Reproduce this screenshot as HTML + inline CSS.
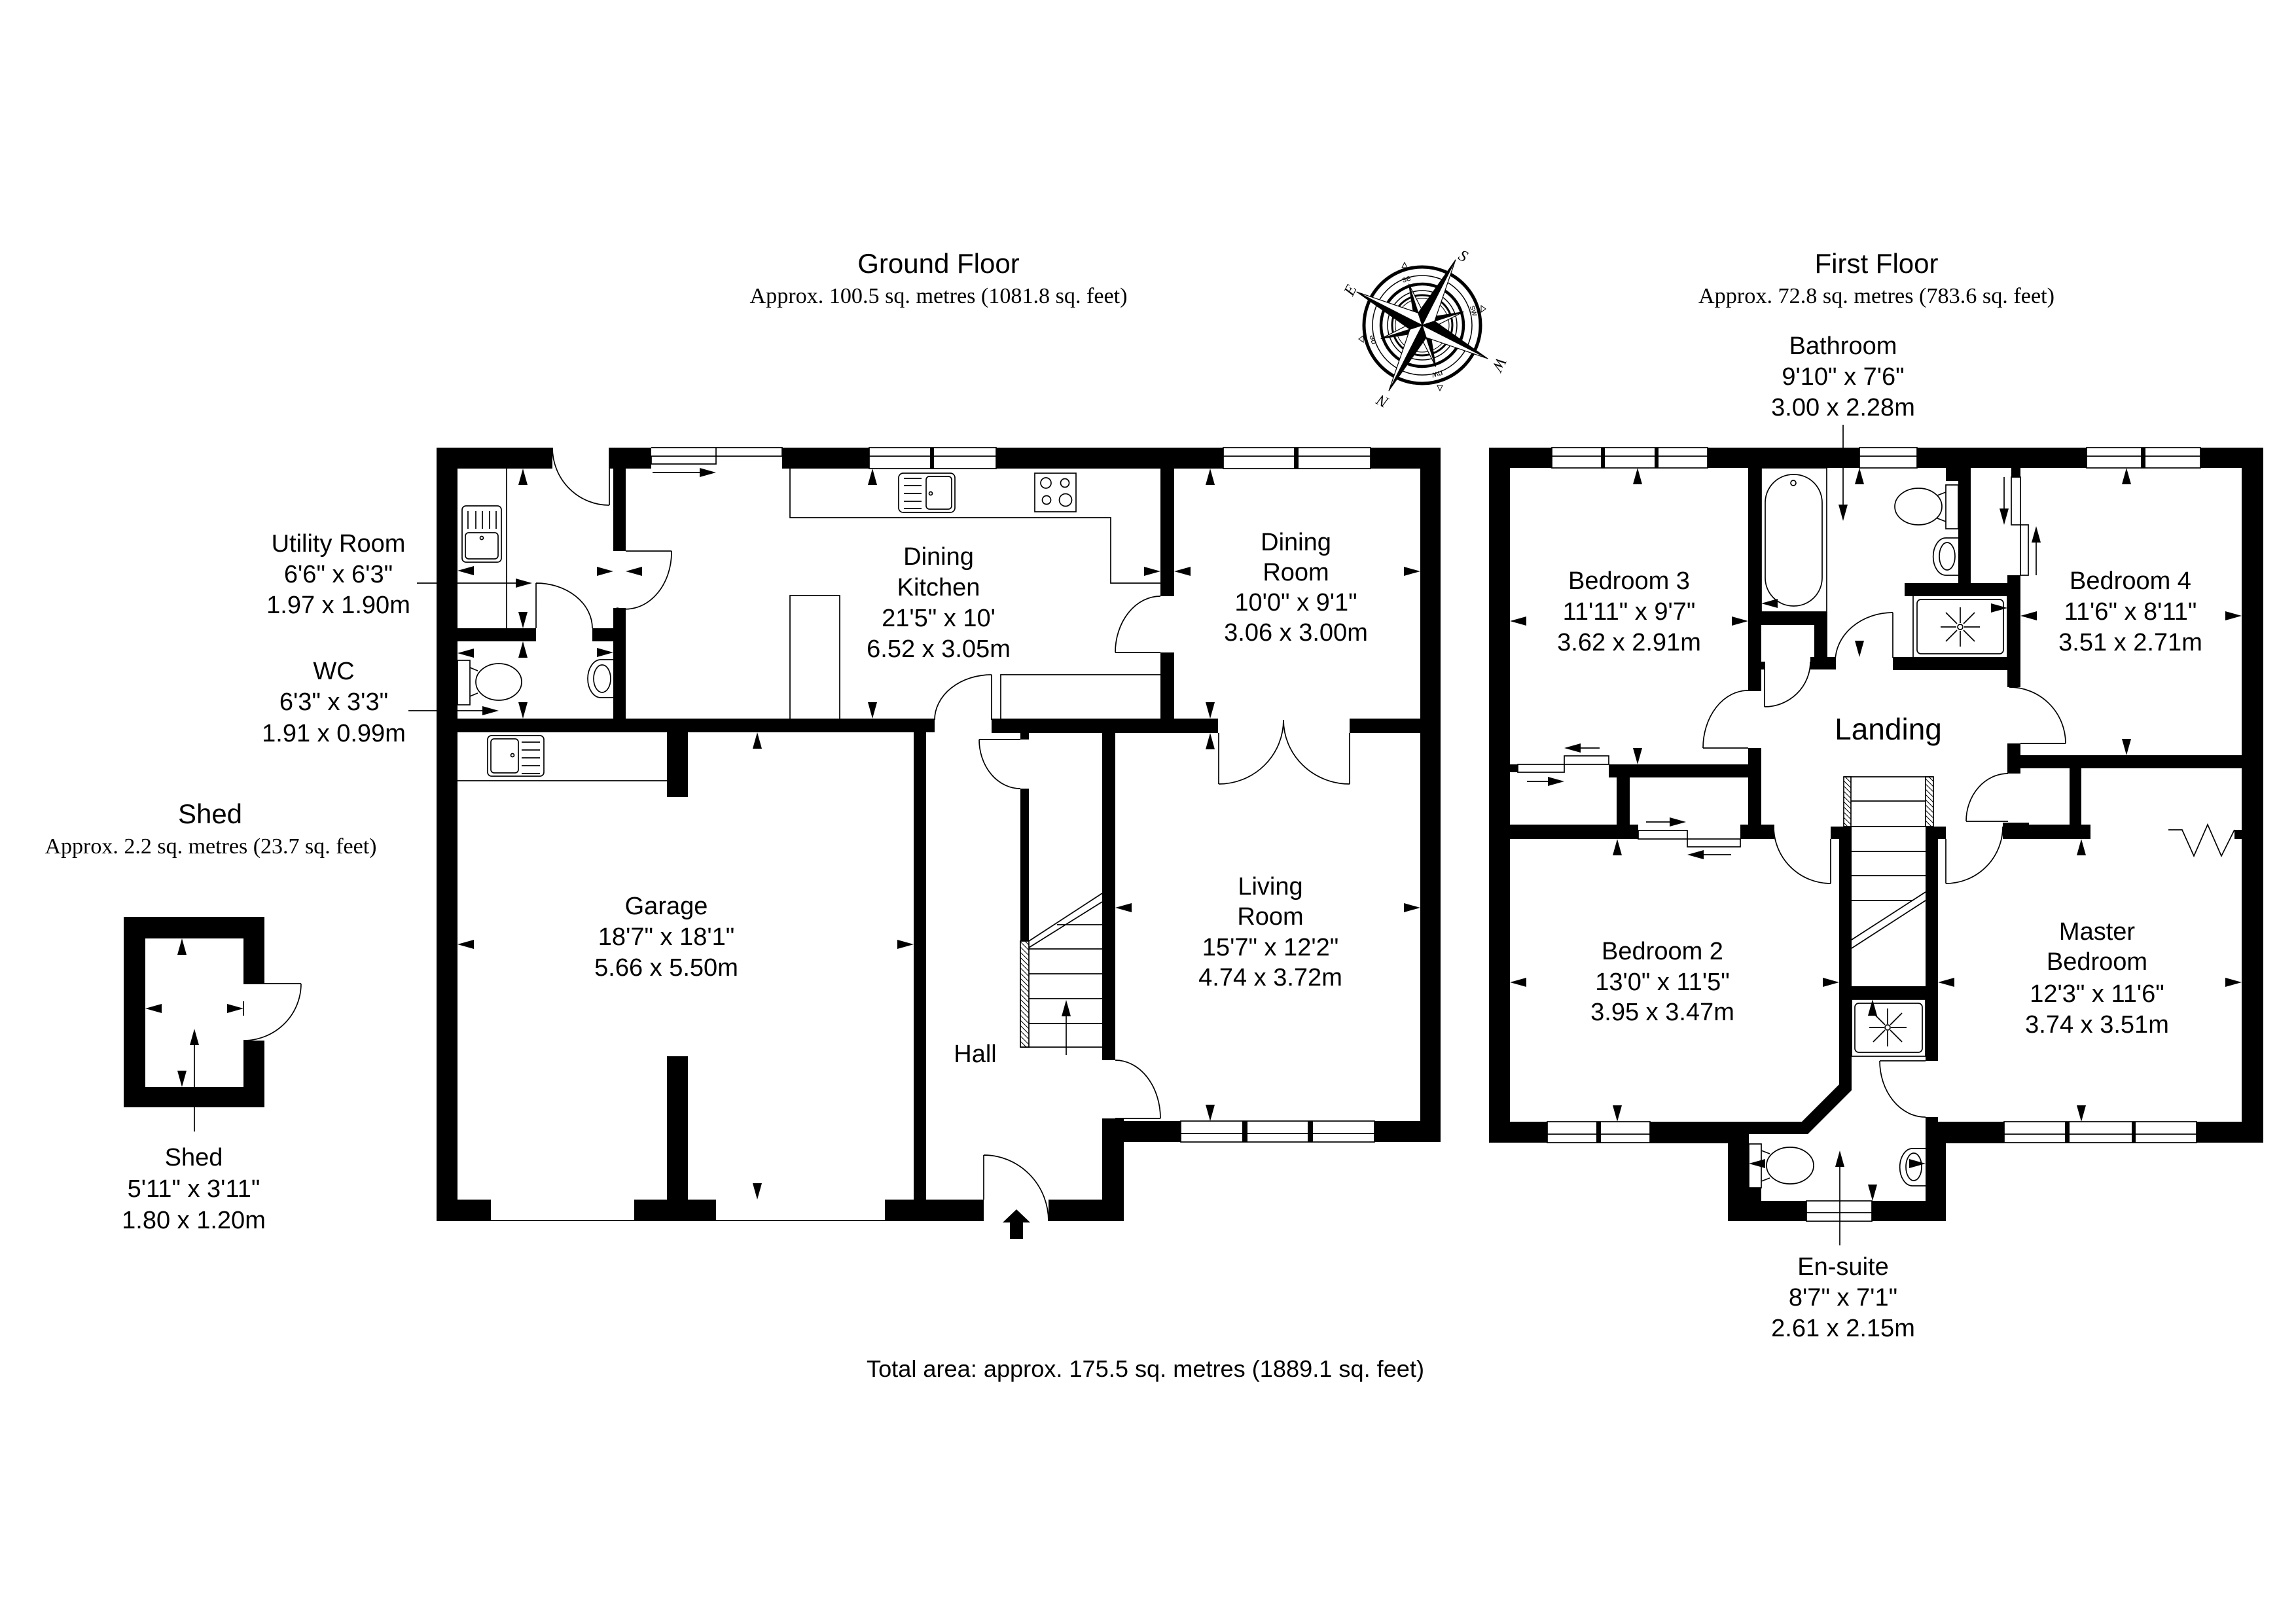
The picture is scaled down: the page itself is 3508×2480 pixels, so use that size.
<!DOCTYPE html>
<html><head><meta charset="utf-8"><style>
html,body{margin:0;padding:0;background:#fff}
svg{display:block}
.l{font-family:"Liberation Sans",Arial,sans-serif;font-size:38px;text-anchor:middle;fill:#000}
.h{font-family:"Liberation Sans",Arial,sans-serif;font-size:42px;text-anchor:middle;fill:#000}
.s{font-family:"Liberation Serif","Times New Roman",serif;font-size:34px;text-anchor:middle;fill:#000}
.c{font-family:"Liberation Serif","Times New Roman",serif;font-style:italic;font-size:24px;text-anchor:middle;fill:#000}
.cs{font-family:"Liberation Sans",Arial,sans-serif;font-size:13px;text-anchor:middle;fill:#000}
</style></head><body>
<svg xmlns="http://www.w3.org/2000/svg" width="3508" height="2480" viewBox="0 0 3508 2480">
<rect width="3508" height="2480" fill="#fff"/>
<defs>
<path id="aU" d="M0,0 L-7,25 L7,25 Z"/>
<path id="aD" d="M0,0 L-7,-25 L7,-25 Z"/>
<path id="aL" d="M0,0 L25,-7 L25,7 Z"/>
<path id="aR" d="M0,0 L-25,-7 L-25,7 Z"/>
<pattern id="hatch" patternUnits="userSpaceOnUse" width="8" height="8">
<path d="M-2,-2 L10,10 M-2,6 L2,10 M6,-2 L10,2" stroke="#000" stroke-width="1"/>
</pattern>
</defs>

<!-- ===== THIN LINES (fixtures, doors, windows) ===== -->
<g fill="none" stroke="#000" stroke-width="1.7">
<!-- ground windows -->
<rect x="1328" y="684" width="194" height="32" fill="#fff"/><path d="M1328,697H1522"/>
<rect x="1869" y="684" width="225" height="32" fill="#fff"/><path d="M1869,697H2094"/>
<rect x="1804" y="1713" width="296" height="32" fill="#fff"/><path d="M1804,1732H2100"/>
<!-- sliding patio door -->
<path d="M995,684H1195V697H1094V684 M995,697H1094V709H995Z M997,722H1075"/>
<!-- garage door lines -->
<path d="M750,1865H969 M1094,1865H1352"/>
<!-- first floor windows -->
<rect x="2371" y="684" width="238" height="31" fill="#fff"/><path d="M2371,697H2609"/>
<rect x="2841" y="684" width="88" height="31" fill="#fff"/><path d="M2841,697H2929"/>
<rect x="3188" y="684" width="174" height="31" fill="#fff"/><path d="M3188,697H3362"/>
<rect x="2364" y="1714" width="157" height="32" fill="#fff"/><path d="M2364,1733H2521"/>
<rect x="3062" y="1714" width="294" height="32" fill="#fff"/><path d="M3062,1733H3356"/>
<rect x="2760" y="1835" width="100" height="31" fill="#fff"/><path d="M2760,1853H2860"/>

<!-- utility -->
<path d="M774,716V960"/>
<rect x="706" y="773" width="60" height="86" rx="6"/>
<rect x="711" y="814" width="50" height="40" rx="5"/>
<path d="M715,781V808M727,781V808M737,781V808M748,781V808M758,781V808"/>
<circle cx="736" cy="822" r="2.5"/>
<!-- WC -->
<rect x="699" y="1009" width="19" height="68"/>
<ellipse cx="762" cy="1042" rx="35" ry="28"/>
<path d="M718,1020L730,1025M718,1064L730,1059"/>
<path d="M937,1008H918A20,29 0 0 0 918,1066H937"/>
<ellipse cx="920" cy="1037" rx="13" ry="21"/>
<!-- garage -->
<path d="M699,1193H1019"/>
<rect x="745" y="1124" width="86" height="62" rx="6"/>
<rect x="750" y="1129" width="42" height="52" rx="5"/>
<path d="M797,1134H825M797,1146H825M797,1158H825M797,1170H825M797,1182H825"/>
<circle cx="783" cy="1154" r="2.5"/>
<!-- kitchen -->
<path d="M1207,716V791H1697V891H1773"/>
<rect x="1207" y="910" width="76" height="189"/>
<path d="M1529,1098V1031H1773"/>
<rect x="1373" y="723" width="86" height="60" rx="7"/>
<rect x="1415" y="728" width="39" height="50" rx="5"/>
<path d="M1381,731H1408M1381,742H1408M1381,754H1408M1381,766H1408M1381,777H1408"/>
<circle cx="1422" cy="754" r="2.5"/>
<rect x="1581" y="723" width="63" height="59"/>
<circle cx="1598" cy="738" r="8"/><circle cx="1627" cy="738" r="6.5"/>
<circle cx="1599" cy="764" r="6.5"/><circle cx="1628" cy="764" r="9.5"/>
<!-- hall stairs -->
<rect x="1559" y="1438" width="13" height="162" fill="url(#hatch)"/>
<path d="M1615,1413H1684M1572,1450H1684M1572,1488H1684M1572,1526H1684M1572,1564H1684M1559,1600H1684"/>
<path d="M1572,1438L1684,1365M1572,1448L1684,1378"/>
<path d="M1629,1612V1540"/>
<!-- ground doors -->
<path d="M931,684V772M844,684A87,88 0 0 0 931,772"/>
<path d="M819,891V960M819,891A86,69 0 0 1 905,960"/>
<path d="M956,842H1026M1026,842A70,87 0 0 1 942,929"/>
<path d="M1704,997H1773M1704,997A69,86 0 0 1 1773,911"/>
<path d="M1515,1031V1100M1428,1100A87,69 0 0 1 1515,1031"/>
<path d="M1862,1120V1198M1862,1198A99,98 0 0 0 1961,1100"/>
<path d="M2062,1120V1198M2062,1198A101,98 0 0 1 1961,1100"/>
<path d="M1496,1130H1559M1496,1130A63,75 0 0 0 1559,1205"/>
<path d="M1704,1709H1773M1704,1620A69,89 0 0 1 1773,1709"/>
<path d="M1503,1765V1833M1503,1765A99,101 0 0 1 1602,1866"/>
<!-- shed door -->
<path d="M372,1503H460M460,1503A88,87 0 0 1 372,1590"/>
<path d="M372,1530V1552"/>

<!-- first floor fixtures -->
<rect x="2691" y="715" width="100" height="220"/>
<rect x="2697" y="725" width="87" height="201" rx="43"/>
<circle cx="2740" cy="738" r="4"/>
<rect x="2973" y="741" width="19" height="67"/>
<ellipse cx="2931" cy="774" rx="36" ry="28"/>
<path d="M2973,752L2960,757M2973,797L2960,792"/>
<path d="M2992,822H2973A19,28 0 0 0 2973,879H2992"/>
<ellipse cx="2975" cy="850" rx="12" ry="21"/>
<rect x="2923" y="910" width="144" height="95"/>
<rect x="2929" y="916" width="132" height="83" rx="6"/>
<circle cx="2995" cy="958" r="4"/>
<path d="M2995,928V952M2995,964V988M2965,958H2989M3001,958H3025M2973,936L2990,953M3000,963L3017,980M3017,936L3000,953M2990,963L2973,980"/>
<rect x="2829" y="1527" width="113" height="87"/>
<rect x="2834" y="1533" width="103" height="75" rx="6"/>
<circle cx="2884" cy="1570" r="4"/>
<path d="M2884,1541V1565M2884,1575V1599M2856,1570H2879M2889,1570H2913M2862,1548L2880,1566M2888,1574L2906,1592M2906,1548L2888,1566M2880,1574L2862,1592"/>
<rect x="2672" y="1748" width="19" height="67"/>
<ellipse cx="2735" cy="1781" rx="36" ry="28"/>
<path d="M2691,1758L2704,1763M2691,1805L2704,1800"/>
<path d="M2942,1755H2922A19,28 0 0 0 2922,1812H2942"/>
<ellipse cx="2924" cy="1783" rx="12" ry="21"/>
<!-- sliding wardrobes -->
<rect x="2319" y="1168" width="71" height="12"/>
<rect x="2390" y="1155" width="68" height="13"/>
<rect x="2503" y="1269" width="75" height="13"/>
<rect x="2578" y="1282" width="81" height="12"/>
<rect x="3073" y="729" width="14" height="73"/>
<rect x="3087" y="802" width="12" height="77"/>
<path d="M2405,1143H2444M2333,1194H2370M2515,1256H2556M2600,1306H2645M3062,729V782M3111,879V824"/>
<!-- bifold -->
<path d="M3313,1268H3334L3352,1308L3373,1260L3394,1308L3414,1268"/>
<!-- first floor stairs -->
<rect x="2817" y="1187" width="11" height="76" fill="url(#hatch)"/>
<rect x="2942" y="1187" width="12" height="76" fill="url(#hatch)"/>
<path d="M2817,1187H2954M2828,1224H2942M2828,1263H2942M2829,1301H2942M2829,1338H2942M2829,1376H2922"/>
<path d="M2829,1436L2942,1363M2829,1449L2942,1376"/>
<!-- first floor doors -->
<path d="M2602,1143H2671M2671,1055A69,88 0 0 0 2602,1143"/>
<path d="M2696,1023V1080M2696,1080A70,69 0 0 0 2766,1011"/>
<path d="M2892,936V1005M2804,1011A88,75 0 0 1 2892,936"/>
<path d="M3087,1136H3156M3070,1050A86,86 0 0 1 3156,1136"/>
<path d="M3004,1255H3068M3068,1182A64,73 0 0 0 3004,1255"/>
<path d="M2797,1282V1350M2710,1263A87,87 0 0 0 2797,1350"/>
<path d="M2973,1282V1350M2973,1350A87,87 0 0 0 3060,1263"/>
<path d="M2872,1621H2942M2872,1621A70,86 0 0 0 2942,1707"/>
<!-- leaders -->
<path d="M637,891H792M624,1086H740M2816,649V775M2811,1903V1780M297,1729V1592"/>
</g>

<!-- ===== WALLS ===== -->
<g fill="#000">
<!-- ground floor -->
<rect x="667" y="684" width="32" height="1182"/>
<rect x="667" y="684" width="177" height="32"/>
<rect x="931" y="684" width="64" height="32"/>
<rect x="1195" y="684" width="133" height="32"/>
<rect x="1421" y="684" width="6" height="32"/>
<rect x="1522" y="684" width="347" height="32"/>
<rect x="1977" y="684" width="7" height="32"/>
<rect x="2094" y="684" width="107" height="32"/>
<rect x="2170" y="684" width="31" height="1061"/>
<rect x="937" y="684" width="19" height="158"/>
<rect x="937" y="929" width="19" height="169"/>
<rect x="699" y="960" width="120" height="20"/>
<rect x="905" y="960" width="32" height="20"/>
<rect x="699" y="1098" width="729" height="21"/>
<rect x="1515" y="1098" width="346" height="22"/>
<rect x="2062" y="1098" width="108" height="22"/>
<rect x="1773" y="716" width="21" height="195"/>
<rect x="1773" y="997" width="21" height="101"/>
<rect x="1019" y="1119" width="32" height="99"/>
<rect x="1019" y="1614" width="32" height="252"/>
<rect x="667" y="1833" width="83" height="33"/>
<rect x="969" y="1833" width="125" height="33"/>
<rect x="1352" y="1833" width="151" height="33"/>
<rect x="1602" y="1833" width="115" height="33"/>
<rect x="1396" y="1119" width="19" height="747"/>
<rect x="1684" y="1098" width="20" height="522"/>
<rect x="1684" y="1709" width="33" height="157"/>
<rect x="1704" y="1713" width="100" height="32"/>
<rect x="1898" y="1713" width="8" height="32"/>
<rect x="1998" y="1713" width="8" height="32"/>
<rect x="2100" y="1713" width="101" height="32"/>
<rect x="1559" y="1120" width="13" height="10"/>
<rect x="1559" y="1205" width="13" height="233"/>
<!-- shed -->
<rect x="189" y="1401" width="215" height="33"/>
<rect x="189" y="1401" width="33" height="291"/>
<rect x="189" y="1661" width="215" height="31"/>
<rect x="372" y="1401" width="32" height="102"/>
<rect x="372" y="1590" width="32" height="102"/>
<!-- first floor -->
<rect x="2275" y="684" width="32" height="1062"/>
<rect x="3425" y="684" width="33" height="1062"/>
<rect x="2275" y="684" width="96" height="31"/>
<rect x="2446" y="684" width="6" height="31"/>
<rect x="2528" y="684" width="6" height="31"/>
<rect x="2609" y="684" width="232" height="31"/>
<rect x="2929" y="684" width="259" height="31"/>
<rect x="3271" y="684" width="7" height="31"/>
<rect x="3362" y="684" width="96" height="31"/>
<rect x="2671" y="715" width="20" height="341"/>
<rect x="2671" y="1143" width="20" height="139"/>
<rect x="2691" y="935" width="101" height="20"/>
<rect x="2772" y="955" width="20" height="68"/>
<rect x="2766" y="1004" width="39" height="19"/>
<rect x="2691" y="1011" width="6" height="12"/>
<rect x="2973" y="715" width="38" height="20"/>
<rect x="2992" y="715" width="19" height="176"/>
<rect x="2910" y="891" width="177" height="20"/>
<rect x="3067" y="879" width="20" height="171"/>
<rect x="3073" y="715" width="14" height="14"/>
<rect x="2892" y="1004" width="195" height="20"/>
<rect x="3067" y="1136" width="20" height="46"/>
<rect x="3068" y="1154" width="357" height="20"/>
<rect x="3162" y="1174" width="18" height="108"/>
<rect x="3061" y="1260" width="133" height="22"/>
<rect x="3060" y="1257" width="40" height="25"/>
<rect x="3414" y="1268" width="11" height="14"/>
<rect x="2458" y="1168" width="233" height="20"/>
<rect x="2307" y="1168" width="12" height="12"/>
<rect x="2470" y="1180" width="20" height="102"/>
<rect x="2275" y="1260" width="228" height="22"/>
<rect x="2659" y="1260" width="52" height="22"/>
<rect x="2797" y="1263" width="32" height="19"/>
<rect x="2810" y="1282" width="19" height="375"/>
<rect x="2942" y="1263" width="31" height="19"/>
<rect x="2942" y="1282" width="19" height="339"/>
<rect x="2829" y="1507" width="113" height="20"/>
<polygon points="2810,1650 2829,1650 2829,1666 2762,1733 2740,1733 2740,1714 2753,1714 2810,1657"/>
<rect x="2275" y="1714" width="89" height="32"/>
<rect x="2439" y="1714" width="7" height="32"/>
<rect x="2521" y="1714" width="151" height="33"/>
<rect x="2640" y="1714" width="32" height="152"/>
<rect x="2672" y="1714" width="88" height="19"/>
<rect x="2640" y="1835" width="120" height="31"/>
<rect x="2860" y="1835" width="113" height="31"/>
<rect x="2672" y="1815" width="19" height="20"/>
<rect x="2942" y="1707" width="19" height="40"/>
<rect x="2961" y="1714" width="101" height="33"/>
<rect x="2942" y="1747" width="31" height="119"/>
<rect x="3155" y="1714" width="7" height="32"/>
<rect x="3257" y="1714" width="6" height="32"/>
<rect x="3356" y="1714" width="102" height="32"/>
<!-- front door arrow -->
<polygon points="1553,1848 1532,1868 1543,1868 1543,1893 1563,1893 1563,1868 1574,1868"/>
</g>

<!-- ===== ARROWS ===== -->
<g fill="#000">
<use href="#aU" x="799" y="716"/><use href="#aL" x="699" y="872"/><use href="#aR" x="937" y="873"/><use href="#aD" x="799" y="960"/>
<use href="#aL" x="699" y="998"/><use href="#aU" x="799" y="980"/><use href="#aD" x="799" y="1098"/><use href="#aR" x="937" y="997"/>
<use href="#aU" x="1333" y="716"/><use href="#aD" x="1333" y="1098"/><use href="#aL" x="956" y="873"/><use href="#aR" x="1773" y="873"/>
<use href="#aU" x="1849" y="716"/><use href="#aD" x="1849" y="1098"/><use href="#aL" x="1794" y="873"/><use href="#aR" x="2170" y="873"/>
<use href="#aU" x="1849" y="1120"/><use href="#aD" x="1849" y="1713"/><use href="#aL" x="1704" y="1387"/><use href="#aR" x="2170" y="1387"/>
<use href="#aU" x="1157" y="1119"/><use href="#aD" x="1157" y="1833"/><use href="#aL" x="699" y="1443"/><use href="#aR" x="1396" y="1443"/>
<use href="#aR" x="813" y="891"/><use href="#aR" x="762" y="1086"/>
<use href="#aR" x="1094" y="722"/>
<use href="#aU" x="1629" y="1528"/>
<use href="#aU" x="278" y="1434"/><use href="#aD" x="278" y="1661"/><use href="#aL" x="222" y="1541"/><use href="#aR" x="372" y="1541"/>
<use href="#aU" x="297" y="1572"/>
<use href="#aU" x="2502" y="715"/><use href="#aD" x="2502" y="1168"/><use href="#aL" x="2307" y="949"/><use href="#aR" x="2671" y="949"/>
<use href="#aU" x="2841" y="715"/><use href="#aD" x="2841" y="1004"/><use href="#aL" x="2691" y="922"/><use href="#aR" x="3067" y="929"/>
<use href="#aD" x="2816" y="796"/>
<use href="#aU" x="3249" y="715"/><use href="#aD" x="3249" y="1154"/><use href="#aL" x="3087" y="941"/><use href="#aR" x="3425" y="941"/>
<use href="#aU" x="2471" y="1282"/><use href="#aD" x="2471" y="1714"/><use href="#aL" x="2307" y="1501"/><use href="#aR" x="2810" y="1501"/>
<use href="#aU" x="3180" y="1282"/><use href="#aD" x="3180" y="1714"/><use href="#aL" x="2961" y="1501"/><use href="#aR" x="3425" y="1501"/>
<use href="#aU" x="2861" y="1527"/><use href="#aD" x="2861" y="1835"/><use href="#aL" x="2672" y="1778"/><use href="#aR" x="2942" y="1778"/>
<use href="#aU" x="2811" y="1758"/>
<use href="#aL" x="2390" y="1143"/><use href="#aR" x="2390" y="1194"/><use href="#aR" x="2576" y="1256"/><use href="#aL" x="2578" y="1306"/>
<use href="#aD" x="3062" y="802"/><use href="#aU" x="3111" y="804"/>
</g>

<!-- ===== COMPASS ===== -->
<g transform="translate(2173,497)">
<g fill="none" stroke="#000">
<circle r="89" stroke-width="5"/>
<circle r="76" stroke-width="1.5"/>
<circle r="63" stroke-width="4.5"/>
<circle r="53" stroke-width="1.5"/>
<circle r="46" stroke-width="3"/>
<circle r="41" stroke-width="1"/>
</g>
<g transform="rotate(207)" stroke="#000" stroke-width="1.2" stroke-linejoin="round">
<g transform="rotate(45)"><polygon points="0,0 0,-66 -9,-9" fill="#000"/><polygon points="0,0 0,-66 9,-9" fill="#fff"/></g>
<g transform="rotate(135)"><polygon points="0,0 0,-66 -9,-9" fill="#000"/><polygon points="0,0 0,-66 9,-9" fill="#fff"/></g>
<g transform="rotate(225)"><polygon points="0,0 0,-66 -9,-9" fill="#000"/><polygon points="0,0 0,-66 9,-9" fill="#fff"/></g>
<g transform="rotate(315)"><polygon points="0,0 0,-66 -9,-9" fill="#000"/><polygon points="0,0 0,-66 9,-9" fill="#fff"/></g>
<g><polygon points="0,0 0,-112 -14,-14" fill="#000"/><polygon points="0,0 0,-112 14,-14" fill="#fff"/></g>
<g transform="rotate(90)"><polygon points="0,0 0,-112 -14,-14" fill="#000"/><polygon points="0,0 0,-112 14,-14" fill="#fff"/></g>
<g transform="rotate(180)"><polygon points="0,0 0,-112 -14,-14" fill="#000"/><polygon points="0,0 0,-112 14,-14" fill="#fff"/></g>
<g transform="rotate(270)"><polygon points="0,0 0,-112 -14,-14" fill="#000"/><polygon points="0,0 0,-112 14,-14" fill="#fff"/></g>
</g>
<g fill="#fff" stroke="#000" stroke-width="1">
<polygon points="-31,-88 -23,-88 -27,-96"/>
<polygon points="90,-30 90,-20 97,-25"/>
<polygon points="23,92 31,92 27,100"/>
<polygon points="-90,16 -90,26 -97,21"/>
</g>
</g>
<text class="c" transform="translate(2232,398) rotate(27)">S</text>
<text class="c" transform="translate(2070,447) rotate(-63)">E</text>
<text class="c" transform="translate(2116,606) rotate(207)">N</text>
<text class="c" transform="translate(2284,553) rotate(117)">W</text>
<text class="cs" transform="translate(2150,430) rotate(-17)">se</text>
<text class="cs" transform="translate(2248,476) rotate(73)">sw</text>
<text class="cs" transform="translate(2101,518) rotate(-107)">ne</text>
<text class="cs" transform="translate(2195,568) rotate(163)">nw</text>

<!-- ===== TEXT ===== -->
<text class="h" x="1434" y="417">Ground Floor</text>
<text class="s" x="1434" y="463" textLength="577" lengthAdjust="spacingAndGlyphs">Approx. 100.5 sq. metres (1081.8 sq. feet)</text>
<text class="h" x="2867" y="417">First Floor</text>
<text class="s" x="2867" y="463" textLength="544" lengthAdjust="spacingAndGlyphs">Approx. 72.8 sq. metres (783.6 sq. feet)</text>
<text class="h" x="321" y="1258">Shed</text>
<text class="s" x="322" y="1304" textLength="507" lengthAdjust="spacingAndGlyphs">Approx. 2.2 sq. metres (23.7 sq. feet)</text>
<text class="l" x="1750" y="2104" style="font-size:36px" textLength="852" lengthAdjust="spacingAndGlyphs">Total area: approx. 175.5 sq. metres (1889.1 sq. feet)</text>

<text class="l" x="517" y="843">Utility Room</text>
<text class="l" x="517" y="890">6'6" x 6'3"</text>
<text class="l" x="517" y="937">1.97 x 1.90m</text>

<text class="l" x="510" y="1038">WC</text>
<text class="l" x="510" y="1085">6'3" x 3'3"</text>
<text class="l" x="510" y="1133">1.91 x 0.99m</text>

<text class="l" x="1434" y="863">Dining</text>
<text class="l" x="1434" y="910">Kitchen</text>
<text class="l" x="1434" y="957">21'5" x 10'</text>
<text class="l" x="1434" y="1004">6.52 x 3.05m</text>

<text class="l" x="1980" y="841">Dining</text>
<text class="l" x="1980" y="887">Room</text>
<text class="l" x="1980" y="933">10'0" x 9'1"</text>
<text class="l" x="1980" y="979">3.06 x 3.00m</text>

<text class="l" x="1941" y="1367">Living</text>
<text class="l" x="1941" y="1413">Room</text>
<text class="l" x="1941" y="1460">15'7" x 12'2"</text>
<text class="l" x="1941" y="1506">4.74 x 3.72m</text>

<text class="l" x="1018" y="1397">Garage</text>
<text class="l" x="1018" y="1444">18'7" x 18'1"</text>
<text class="l" x="1018" y="1491">5.66 x 5.50m</text>

<text class="l" x="1490" y="1623">Hall</text>

<text class="l" x="296" y="1781">Shed</text>
<text class="l" x="296" y="1829">5'11" x 3'11"</text>
<text class="l" x="296" y="1877">1.80 x 1.20m</text>

<text class="l" x="2816" y="541">Bathroom</text>
<text class="l" x="2816" y="588">9'10" x 7'6"</text>
<text class="l" x="2816" y="635">3.00 x 2.28m</text>

<text class="l" x="2489" y="900">Bedroom 3</text>
<text class="l" x="2489" y="947">11'11" x 9'7"</text>
<text class="l" x="2489" y="994">3.62 x 2.91m</text>

<text class="l" x="3255" y="900">Bedroom 4</text>
<text class="l" x="3255" y="947">11'6" x 8'11"</text>
<text class="l" x="3255" y="994">3.51 x 2.71m</text>

<text class="l" x="2885" y="1130" style="font-size:46px">Landing</text>

<text class="l" x="2540" y="1466">Bedroom 2</text>
<text class="l" x="2540" y="1513">13'0" x 11'5"</text>
<text class="l" x="2540" y="1559">3.95 x 3.47m</text>

<text class="l" x="3204" y="1436">Master</text>
<text class="l" x="3204" y="1482">Bedroom</text>
<text class="l" x="3204" y="1531">12'3" x 11'6"</text>
<text class="l" x="3204" y="1578">3.74 x 3.51m</text>

<text class="l" x="2816" y="1948">En-suite</text>
<text class="l" x="2816" y="1995">8'7" x 7'1"</text>
<text class="l" x="2816" y="2042">2.61 x 2.15m</text>
</svg>
</body></html>
